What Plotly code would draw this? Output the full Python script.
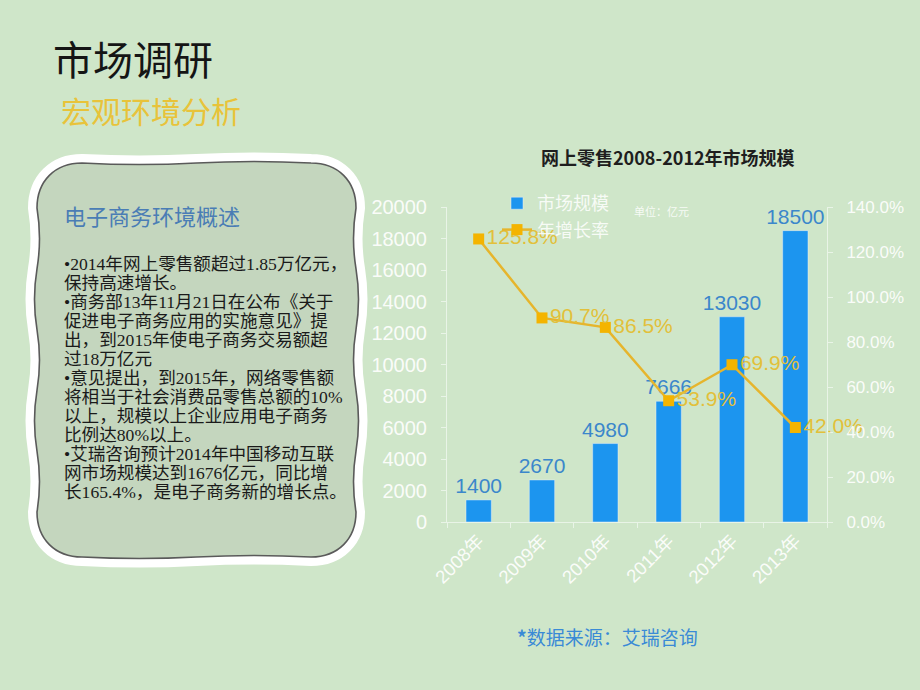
import plotly.graph_objects as go

# ---------------- data ----------------
years = ["2008年", "2009年", "2010年", "2011年", "2012年", "2013年"]
market_size = [1400, 2670, 4980, 7666, 13030, 18500]
growth_rate = [125.8, 90.7, 86.5, 53.9, 69.9, 42.0]
left_ticks = list(range(0, 20001, 2000))
right_ticks = list(range(0, 141, 20))
right_tick_text = [f"{v:.1f}%" for v in right_ticks]

page_title = "市场调研"
page_subtitle = "宏观环境分析"
chart_title = "网上零售2008-2012年市场规模"
unit_text = "单位：亿元"
source_text = "数据来源：艾瑞咨询"
card_title = "电子商务环境概述"
card_lines = [
    "•2014年网上零售额超过1.85万亿元，",
    "保持高速增长。",
    "•商务部13年11月21日在公布《关于",
    "促进电子商务应用的实施意见》提",
    "出，到2015年使电子商务交易额超",
    "过18万亿元",
    "•意见提出，到2015年，网络零售额",
    "将相当于社会消费品零售总额的10%",
    "以上，规模以上企业应用电子商务",
    "比例达80%以上。",
    "•艾瑞咨询预计2014年中国移动互联",
    "网市场规模达到1676亿元，同比增",
    "长165.4%，是电子商务新的增长点。",
]

# ---------------- layout geometry (pixels) ----------------
W, H = 920, 690
L, R, T, B = 447, 93, 207, 168
PW, PH = W - L - R, H - T - B


def px(x):
    return (x - L) / PW


def py(y):
    return (H - B - y) / PH


BG = "#CFE6C9"
CJK = "Noto Sans CJK SC"
SANS = "Liberation Sans, Noto Sans CJK SC"
SERIF = "Liberation Serif, Noto Sans CJK SC"
AXIS_C = "rgba(255,255,255,0.55)"
TICK_FONT_C = "rgba(255,255,255,0.92)"

fig = go.Figure()

fig.add_trace(go.Bar(
    x=years, y=market_size, name="市场规模",
    marker_color="#1C95EF", width=0.4,
    texttemplate="%{y:d}", textposition="outside", constraintext="none",
    textfont=dict(color="#3B87CB", size=21, family=SANS),
    cliponaxis=False,
))
fig.add_trace(go.Scatter(
    x=years, y=growth_rate, name="年增长率", yaxis="y2",
    mode="lines+markers+text",
    line=dict(color="#E6B52C", width=2.5),
    marker=dict(symbol="square", size=11, color="#F4B400"),
    texttemplate="%{y:.1f}%", textposition="middle right",
    textfont=dict(color="#E2C03A", size=21, family=SANS),
    cliponaxis=False,
))

# ---------------- card shape (wavy rounded rectangle) ----------------
def wave_seg(p0, p1, n, amp, sign=1):
    cmds = []
    for i in range(n):
        a = (p0[0] + (p1[0] - p0[0]) * i / n, p0[1] + (p1[1] - p0[1]) * i / n)
        b = (p0[0] + (p1[0] - p0[0]) * (i + 1) / n, p0[1] + (p1[1] - p0[1]) * (i + 1) / n)
        mx, my = (a[0] + b[0]) / 2, (a[1] + b[1]) / 2
        dx, dy = b[0] - a[0], b[1] - a[1]
        ln = (dx * dx + dy * dy) ** 0.5
        nx, ny = -dy / ln, dx / ln
        s = amp * (sign if i % 2 == 0 else -sign)
        cmds.append(("Q", [(mx + nx * s, my + ny * s), b]))
    return cmds


def card_path(x0, y0, x1, y1, r):
    k = 0.4
    cmds = [("M", [(x0 + r, y0)])]
    cmds += wave_seg((x0 + r, y0), (x1 - r, y0), 2, 3)
    cmds.append(("C", [(x1 - r * k, y0), (x1, y0 + r * k), (x1, y0 + r)]))
    cmds += wave_seg((x1, y0 + r), (x1, y1 - r), 5, 5)
    cmds.append(("C", [(x1, y1 - r * k), (x1 - r * k, y1), (x1 - r, y1)]))
    cmds += wave_seg((x1 - r, y1), (x0 + r, y1), 2, 3)
    cmds.append(("C", [(x0 + r * k, y1), (x0, y1 - r * k), (x0, y1 - r)]))
    cmds += wave_seg((x0, y1 - r), (x0, y0 + r), 5, 5)
    cmds.append(("C", [(x0, y0 + r * k), (x0 + r * k, y0), (x0 + r, y0)]))
    s = ""
    for c, pts in cmds:
        s += c + " ".join(f"{px(a):.5f},{py(b):.5f}" for a, b in pts) + " "
    return s + "Z"


path = card_path(37, 163, 356, 557, 45)
shapes = [
    dict(type="path", path=path, xref="paper", yref="paper",
         line=dict(color="white", width=18), fillcolor="white", layer="below"),
    dict(type="path", path=path, xref="paper", yref="paper",
         line=dict(color="#5a5a5a", width=1.6), fillcolor="#C4D6BE", layer="below"),
]

# ---------------- annotations ----------------
ann = []


def text(x, y, s, size, color, family=CJK, xanchor="left", yanchor="middle"):
    ann.append(dict(x=px(x), y=py(y), xref="paper", yref="paper", text=s,
                    showarrow=False, xanchor=xanchor, yanchor=yanchor,
                    font=dict(size=size, color=color, family=family)))


text(51, 58, page_title, 40, "#151515")
text(59, 110, page_subtitle, 30, "#E8C33A")
text(668, 157, "<b>" + chart_title + "</b>", 18, "#1e1e1e", xanchor="center")
text(632, 211, unit_text, 11, "rgba(255,255,255,0.85)")
text(515, 636, "<b>*</b>" + source_text, 19, "#3A8AD6")
text(62, 215, card_title, 22, "#4A7DB5")
for i, ln in enumerate(card_lines):
    text(62, 264 + 19 * i, ln, 17.6, "#1a1a1a", family=SERIF)

fig.update_layout(
    width=W, height=H,
    margin=dict(l=L, r=R, t=T, b=B, pad=0),
    paper_bgcolor=BG, plot_bgcolor=BG,
    showlegend=True,
    legend=dict(x=px(497), y=py(185), xanchor="left", yanchor="top",
                bgcolor="rgba(0,0,0,0)", font=dict(size=18, color="rgba(255,255,255,0.85)", family=CJK),
                itemwidth=30, tracegroupgap=0),
    shapes=shapes,
    annotations=ann,
    xaxis=dict(
        type="category", showgrid=False, showline=True, linecolor=AXIS_C, linewidth=1,
        ticks="outside", tickson="boundaries", ticklen=5, tickcolor=AXIS_C,
        tickangle=-45, tickfont=dict(size=18.5, color=TICK_FONT_C, family=SANS),
        zeroline=False,
    ),
    yaxis=dict(
        range=[0, 20000], tickvals=left_ticks, tickformat="d", showgrid=False, zeroline=False,
        showline=True, linecolor=AXIS_C, ticks="outside", ticklen=5, tickcolor=AXIS_C,
        tickfont=dict(size=20, color=TICK_FONT_C, family=SANS), ticklabelstandoff=10,
    ),
    yaxis2=dict(
        range=[0, 140], tickvals=right_ticks, ticktext=right_tick_text, overlaying="y", side="right",
        showgrid=False, zeroline=False, showline=True, linecolor=AXIS_C,
        ticks="outside", ticklen=5, tickcolor=AXIS_C,
        tickfont=dict(size=17, color=TICK_FONT_C, family=SANS), ticklabelstandoff=10,
    ),
)

fig.write_html("out.html")
